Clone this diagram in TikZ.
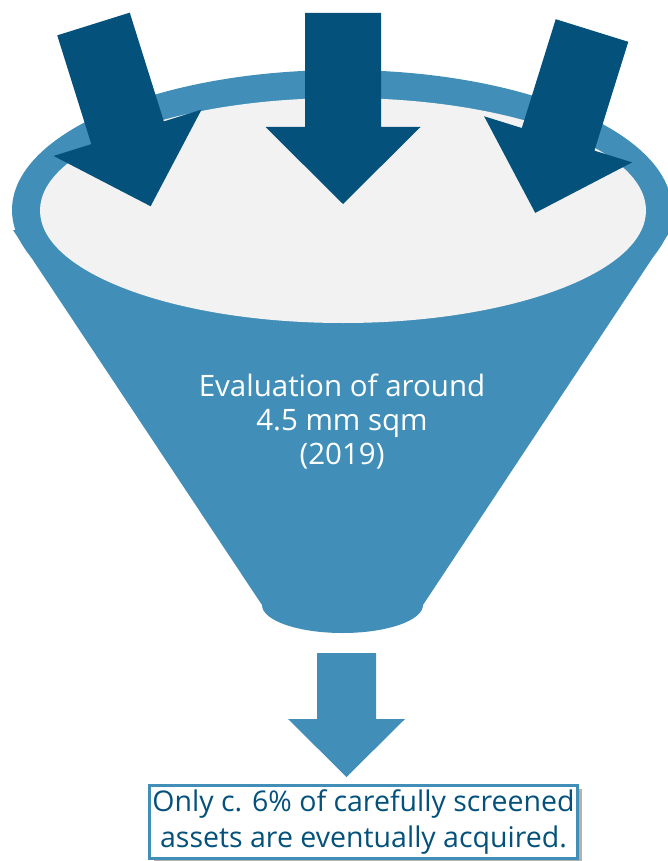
\documentclass[tikz,border=0pt]{standalone}
\usepackage{fontspec}
\setmainfont{Open Sans}
\usetikzlibrary{shadows}
\definecolor{funnelblue}{RGB}{65,143,184}
\definecolor{darkblue}{RGB}{4,81,123}
\definecolor{rimgray}{RGB}{242,242,242}

\begin{document}
\begin{tikzpicture}[
    x=1pt, y=1pt,
    funnel/.style={fill=funnelblue},
    rim/.style={fill=rimgray},
    inarrow/.style={fill=darkblue},
    outarrow/.style={fill=funnelblue},
    label/.style={text=white, align=center, font=\fontsize{29.5}{34}\selectfont},
    result/.style={draw=funnelblue, line width=3pt, fill=white, align=center, text=darkblue,
        font=\fontsize{28.5}{36}\selectfont, minimum width=428pt, minimum height=73pt, inner sep=0pt,
        drop shadow={shadow xshift=4pt, shadow yshift=-3pt, fill=black, opacity=0.3}},
    blockarrow/.pic={\path[pic actions] (-38,0) -- (38,0) -- (38,-114) -- (77.5,-114)
        -- (0,-191) -- (-77.5,-114) -- (-38,-114) -- cycle;}
]
    \useasboundingbox (0,0) rectangle (668,-861);

    % funnel
    \path[funnel] (13,-230) -- (262,-605) arc[start angle=180, end angle=360, x radius=80.5, y radius=28]
        -- (671,-230) -- cycle;
    \path[funnel] (342,-210) ellipse[x radius=330, y radius=140];
    \path[rim] (343,-210.5) ellipse[x radius=303, y radius=112.5];

    % arrows going in
    \pic[inarrow, rotate=17.4] at (93.5,-24) {blockarrow};
    \pic[inarrow] at (343,-13) {blockarrow};
    \pic[inarrow, rotate=-17.3] at (592,-30.5) {blockarrow};

    \node[label] (eval) at (342,-422) {Evaluation of around\\4.5 mm sqm\\(2019)};

    % arrow going out
    \path[outarrow] (317,-653) -- (376,-653) -- (376,-719) -- (405,-719) -- (346.5,-777)
        -- (288,-719) -- (317,-719) -- cycle;

    \node[result] (acquired) at (363.5,-822) {Only c. 6\% of carefully screened\\assets are eventually acquired.};
\end{tikzpicture}
\end{document}
